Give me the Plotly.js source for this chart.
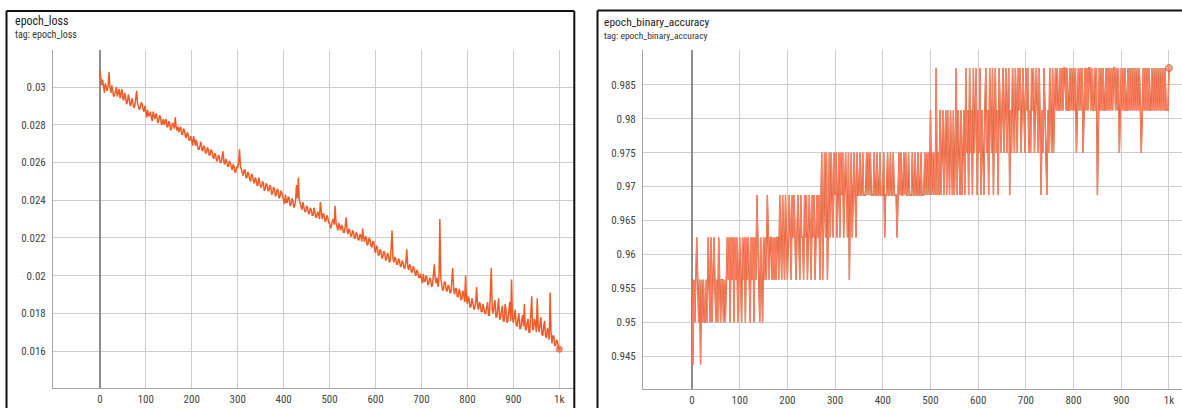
<!DOCTYPE html>
<html>
<head>
<meta charset="utf-8">
<script src="https://cdn.plot.ly/plotly-3.0.1.min.js"></script>
<style>
html,body{margin:0;padding:0;background:#fff;}
#chart{width:1182px;height:408px;}
</style>
</head>
<body>
<div id="chart"></div>
<script>
// ---- data (epochs 0..1000) ----
// epoch_loss, sampled every 2 epochs
const lossValues = [
0.0309,0.0304,0.0301,0.0304,0.0299,0.0297,0.0302,0.0299,0.0298,0.0301,0.0308,0.0300,0.0297,0.0301,0.0298,0.0295,0.0296,0.0299,0.0300,0.0295,0.0297,0.0299,0.0294,0.0296,0.0299,0.0294,0.0293,0.0297,0.0295,0.0291,0.0292,0.0296,0.0294,0.0290,0.0291,0.0294,0.0292,0.0289,0.0290,0.0293,0.0298,0.0291,0.0290,0.0288,0.0289,0.0292,0.0291,0.0288,0.0287,0.0290,
0.0286,0.0284,0.0288,0.0285,0.0285,0.0287,0.0284,0.0282,0.0287,0.0284,0.0283,0.0286,0.0285,0.0281,0.0282,0.0285,0.0284,0.0280,0.0281,0.0283,0.0280,0.0282,0.0283,0.0279,0.0279,0.0282,0.0281,0.0277,0.0278,0.0281,0.0280,0.0278,0.0284,0.0279,0.0277,0.0279,0.0276,0.0278,0.0279,0.0275,0.0275,0.0278,0.0277,0.0274,0.0273,0.0276,0.0275,0.0272,0.0272,0.0274,
0.0271,0.0269,0.0274,0.0270,0.0269,0.0272,0.0270,0.0267,0.0267,0.0270,0.0271,0.0267,0.0266,0.0269,0.0268,0.0265,0.0265,0.0268,0.0267,0.0264,0.0264,0.0267,0.0266,0.0263,0.0262,0.0265,0.0264,0.0261,0.0261,0.0264,0.0263,0.0260,0.0260,0.0263,0.0266,0.0260,0.0259,0.0262,0.0261,0.0258,0.0258,0.0261,0.0259,0.0257,0.0256,0.0259,0.0258,0.0255,0.0255,0.0258,
0.0257,0.0260,0.0267,0.0258,0.0256,0.0254,0.0253,0.0256,0.0256,0.0252,0.0252,0.0255,0.0254,0.0251,0.0250,0.0254,0.0253,0.0250,0.0249,0.0252,0.0251,0.0248,0.0248,0.0252,0.0250,0.0247,0.0247,0.0250,0.0249,0.0245,0.0246,0.0249,0.0248,0.0245,0.0245,0.0248,0.0247,0.0243,0.0244,0.0247,0.0246,0.0242,0.0243,0.0246,0.0245,0.0241,0.0242,0.0245,0.0244,0.0241,
0.0240,0.0238,0.0243,0.0239,0.0239,0.0242,0.0241,0.0237,0.0238,0.0241,0.0240,0.0236,0.0237,0.0240,0.0248,0.0241,0.0252,0.0240,0.0238,0.0236,0.0235,0.0239,0.0237,0.0234,0.0234,0.0237,0.0236,0.0233,0.0233,0.0236,0.0235,0.0232,0.0232,0.0236,0.0234,0.0231,0.0231,0.0234,0.0233,0.0230,0.0239,0.0232,0.0230,0.0233,0.0232,0.0229,0.0229,0.0232,0.0231,0.0228,
0.0228,0.0225,0.0226,0.0229,0.0230,0.0227,0.0237,0.0228,0.0226,0.0224,0.0228,0.0225,0.0224,0.0227,0.0226,0.0223,0.0223,0.0226,0.0231,0.0224,0.0222,0.0225,0.0224,0.0221,0.0221,0.0224,0.0223,0.0220,0.0220,0.0223,0.0222,0.0219,0.0219,0.0222,0.0221,0.0218,0.0225,0.0220,0.0218,0.0221,0.0220,0.0216,0.0217,0.0220,0.0219,0.0216,0.0215,0.0218,0.0218,0.0214,
0.0212,0.0216,0.0215,0.0211,0.0211,0.0214,0.0213,0.0209,0.0210,0.0213,0.0212,0.0208,0.0209,0.0212,0.0211,0.0207,0.0208,0.0215,0.0224,0.0209,0.0207,0.0210,0.0209,0.0206,0.0206,0.0209,0.0208,0.0205,0.0205,0.0208,0.0207,0.0204,0.0204,0.0207,0.0214,0.0205,0.0203,0.0206,0.0205,0.0202,0.0202,0.0205,0.0204,0.0201,0.0200,0.0203,0.0202,0.0199,0.0199,0.0201,
0.0198,0.0196,0.0201,0.0197,0.0197,0.0200,0.0199,0.0195,0.0196,0.0199,0.0198,0.0194,0.0195,0.0199,0.0206,0.0198,0.0196,0.0199,0.0194,0.0197,0.0230,0.0199,0.0195,0.0192,0.0193,0.0197,0.0196,0.0192,0.0192,0.0195,0.0194,0.0191,0.0191,0.0196,0.0204,0.0193,0.0190,0.0193,0.0193,0.0189,0.0189,0.0193,0.0191,0.0187,0.0188,0.0192,0.0190,0.0186,0.0200,0.0187,
0.0185,0.0189,0.0187,0.0183,0.0184,0.0188,0.0186,0.0182,0.0183,0.0186,0.0194,0.0184,0.0182,0.0186,0.0185,0.0181,0.0181,0.0185,0.0183,0.0180,0.0180,0.0184,0.0186,0.0179,0.0179,0.0191,0.0204,0.0182,0.0180,0.0184,0.0187,0.0178,0.0178,0.0183,0.0188,0.0177,0.0177,0.0181,0.0184,0.0176,0.0176,0.0185,0.0182,0.0175,0.0176,0.0181,0.0186,0.0176,0.0198,0.0178,
0.0175,0.0178,0.0182,0.0174,0.0173,0.0177,0.0180,0.0172,0.0172,0.0176,0.0179,0.0173,0.0185,0.0172,0.0171,0.0175,0.0177,0.0170,0.0170,0.0180,0.0189,0.0171,0.0172,0.0177,0.0175,0.0170,0.0188,0.0173,0.0170,0.0174,0.0178,0.0169,0.0168,0.0173,0.0176,0.0168,0.0167,0.0172,0.0171,0.0166,0.0191,0.0170,0.0164,0.0168,0.0168,0.0163,0.0163,0.0166,0.0165,0.0162,
0.0161
];
const lossEpochStep = 2;

// epoch_binary_accuracy, sampled every 2 epochs
const accuracyValues = [
0.95625,0.94375,0.95625,0.95,0.95625,0.9625,0.95625,0.95,0.95625,0.94375,0.95625,0.95,0.95625,0.95,0.95,0.95625,0.95,0.9625,0.95625,0.95,0.9625,0.95,0.95625,0.9625,0.95625,0.95,0.95625,0.95,0.9625,0.95625,0.95,0.95625,0.95625,0.95,0.95625,0.95,0.95625,0.9625,
0.95625,0.9625,0.95,0.9625,0.95625,0.9625,0.95,0.9625,0.95625,0.9625,0.95,0.95625,0.9625,0.95625,0.95,0.9625,0.95625,0.9625,0.95,0.9625,0.95625,0.9625,0.95625,0.95,0.9625,0.95625,0.9625,0.95,0.9625,0.95625,0.96875,0.9625,0.95625,0.95,0.9625,0.95625,0.95,
0.9625,0.95625,0.9625,0.95625,0.96875,0.9625,0.95625,0.9625,0.9625,0.95625,
0.9625,0.95625,0.9625,0.95625,0.9625,0.9625,0.95625,0.96875,0.9625,0.95625,
0.96875,0.9625,0.95625,0.96875,0.9625,0.95625,0.9625,0.96875,0.9625,0.95625,
0.96875,0.9625,0.96875,0.9625,0.95625,0.9625,0.96875,0.9625,0.95625,0.96875,
0.9625,0.9625,0.95625,0.96875,0.9625,0.96875,0.95625,0.9625,0.96875,0.9625,
0.95625,0.96875,0.9625,0.96875,0.95625,0.9625,0.96875,0.9625,0.96875,0.95625,
0.96875,
0.975,0.95625,0.96875,0.975,0.9625,0.975,0.95625,0.96875,0.975,0.9625,
0.975,0.96875,0.9625,0.975,0.96875,0.975,0.9625,0.96875,0.975,0.9625,
0.975,0.96875,0.975,0.9625,0.96875,0.975,0.96875,0.9625,0.975,0.95625,
0.96875,0.975,0.9625,0.96875,0.975,0.96875,0.9625,0.975,0.96875,0.96875,
0.975,
0.96875,0.96875,0.975,0.96875,0.96875,0.96875,0.975,0.96875,0.975,0.96875,
0.975,0.96875,0.96875,0.96875,0.975,0.96875,0.96875,0.975,0.96875,0.96875,
0.975,0.96875,0.96875,0.96875,0.975,0.9625,0.96875,0.96875,0.975,0.96875,
0.96875,0.975,0.96875,0.96875,0.975,0.96875,0.96875,0.96875,0.9625,0.96875,
0.975,0.96875,0.975,0.96875,0.96875,0.975,0.96875,0.975,0.96875,0.96875,
0.975,0.96875,0.96875,0.96875,0.975,0.96875,0.96875,0.975,0.96875,0.96875,
0.975,0.96875,0.96875,0.975,0.96875,0.96875,0.96875,0.975,0.96875,0.975,
0.96875,
0.975,0.96875,0.98125,0.96875,0.975,0.96875,0.975,0.96875,0.9875,0.96875,
0.975,0.96875,0.98125,0.96875,0.975,0.98125,0.96875,0.975,0.98125,0.96875,
0.98125,0.975,0.96875,0.98125,0.975,0.96875,0.98125,0.96875,0.975,0.9875,
0.96875,0.98125,0.975,0.96875,0.98125,0.96875,0.975,0.98125,0.96875,0.9875,
0.975,0.98125,0.96875,0.9875,0.975,0.98125,0.96875,0.9875,0.975,0.98125,
0.9875,0.96875,0.98125,0.975,0.9875,0.96875,0.98125,0.975,0.96875,0.98125,
0.9875,0.975,0.98125,0.96875,0.9875,0.98125,0.975,0.9875,0.96875,0.98125,
0.9875,0.975,0.98125,0.96875,0.9875,0.98125,0.975,0.98125,0.9875,0.975,
0.98125,0.9875,0.975,0.98125,0.9875,0.96875,0.98125,0.975,0.9875,0.98125,
0.975,0.9875,0.98125,0.975,0.9875,0.98125,0.9875,0.975,0.98125,0.9875,
0.98125,0.975,0.9875,
0.98125,0.9875,0.975,0.98125,0.975,0.9875,0.98125,0.9875,0.975,0.98125,
0.9875,0.98125,0.975,0.9875,0.975,0.96875,0.98125,0.975,0.9875,0.98125,
0.975,0.96875,0.98125,0.975,0.9875,0.98125,0.975,0.9875,0.975,0.98125,
0.9875,0.98125,0.9875,0.98125,0.98125,0.9875,0.98125,0.9875,0.98125,0.9875,
0.9875,0.98125,0.9875,0.98125,0.98125,0.9875,0.98125,0.9875,0.98125,0.9875,
0.98125,0.9875,0.975,0.98125,0.9875,0.98125,0.9875,0.98125,0.9875,0.975,
0.98125,0.9875,0.98125,0.9875,0.98125,0.9875,0.9875,0.98125,0.9875,0.98125,
0.98125,0.9875,0.98125,0.9875,0.96875,0.98125,0.9875,0.98125,0.9875,0.98125,
0.9875,0.98125,0.98125,0.9875,0.98125,0.9875,0.98125,0.9875,0.98125,0.9875,
0.98125,0.9875,0.9875,0.98125,0.9875,0.98125,0.9875,0.975,0.98125,0.9875,
0.98125,0.9875,0.98125,0.9875,0.98125,0.98125,0.9875,0.98125,0.9875,0.98125,
0.9875,0.98125,0.9875,0.98125,0.9875,0.98125,0.9875,0.98125,0.9875,0.98125,
0.975,0.98125,0.9875,0.98125,0.9875,0.98125,0.9875,0.98125,0.9875,0.98125,
0.98125,0.9875,0.98125,0.9875,0.98125,0.9875,0.98125,0.9875,0.98125,0.9875,
0.98125,0.9875,0.98125,0.9875,0.98125,0.9875,0.98125,0.98125,0.98125,0.9875
];
const accuracyEpochStep = 2;

const epochTicks = [0,100,200,300,400,500,600,700,800,900,1000];
const epochTickLabels = ['0','100','200','300','400','500','600','700','800','900','1k'];
const lossTicks = [0.016,0.018,0.02,0.022,0.024,0.026,0.028,0.03];
const lossTickLabels = ['0.016','0.018','0.02','0.022','0.024','0.026','0.028','0.03'];
const accTicks = [0.945,0.95,0.955,0.96,0.965,0.97,0.975,0.98,0.985];
const accTickLabels = ['0.945','0.95','0.955','0.96','0.965','0.97','0.975','0.98','0.985'];

// ---- layout helpers (pixel -> paper) ----
const W = 1182, H = 408;
const px = x => x / W;
const py = y => 1 - y / H;
const FONT = '"Liberation Sans Narrow", "Arial Narrow", "Roboto Condensed", Roboto, "Liberation Sans", Arial, sans-serif';

const lastOnly = (arr, size) => arr.map((v, i) => i === arr.length - 1 ? size : 0);

const traces = [
  {
    type: 'scatter', mode: 'lines+markers', xaxis: 'x', yaxis: 'y',
    y: lossValues, x0: 0, dx: lossEpochStep,
    line: {color: '#ee5d27', width: 1.5},
    marker: {size: lastOnly(lossValues, 7), color: '#e9592a', line: {width: 0}},
    hoverinfo: 'skip'
  },
  {
    type: 'scatter', mode: 'lines', xaxis: 'x2', yaxis: 'y2',
    y: accuracyValues, x0: 0, dx: accuracyEpochStep,
    line: {color: '#c4521c', width: 1.4},
    hoverinfo: 'skip'
  },
  {
    type: 'scatter', mode: 'lines+markers', xaxis: 'x2', yaxis: 'y2',
    y: accuracyValues, x0: 0, dx: accuracyEpochStep,
    line: {color: '#ff8266', width: 1.0},
    marker: {size: lastOnly(accuracyValues, 7), color: '#ff7b5c', line: {width: 1, color: '#c4521c'}},
    hoverinfo: 'skip'
  }
];

const gridColor = '#cdcdcd';
const axisLine = '#a3a3a3';
const tickFont = {family: FONT, size: 11, color: '#444'};

function xAxis(domain, range, anchor) {
  return {
    domain, range, anchor, tickmode: 'array', tickvals: epochTicks, ticktext: epochTickLabels,
    showgrid: true, gridcolor: gridColor, gridwidth: 1,
    zeroline: true, zerolinecolor: '#8e8e8e', zerolinewidth: 1.5,
    showline: true, linecolor: axisLine, linewidth: 1,
    ticks: '', tickfont: tickFont, ticklabelstandoff: 1, fixedrange: true
  };
}
function yAxis(domain, range, anchor, vals, labels) {
  return {
    domain, range, anchor, tickmode: 'array', tickvals: vals, ticktext: labels,
    showgrid: true, gridcolor: gridColor, gridwidth: 1, zeroline: false,
    showline: true, linecolor: axisLine, linewidth: 1,
    ticks: '', tickfont: tickFont, ticklabelstandoff: 4, fixedrange: true
  };
}

const border = (x0, y0, x1, y1) => ({
  type: 'line', xref: 'paper', yref: 'paper',
  x0: px(x0), y0: py(y0), x1: px(x1), y1: py(y1),
  line: {color: '#111', width: 2}
});

const label = (x, y, text, size, color) => ({
  xref: 'paper', yref: 'paper', x: px(x), y: py(y), xanchor: 'left', yanchor: 'middle',
  text, showarrow: false, font: {family: FONT, size, color}
});

const layout = {
  width: W, height: H,
  margin: {l: 0, r: 0, t: 0, b: 0},
  paper_bgcolor: '#fff', plot_bgcolor: '#fff',
  showlegend: false,
  font: {family: FONT, size: 11, color: '#444'},
  xaxis: xAxis([px(53), px(574)], [-102, 1032], 'y'),
  yaxis: yAxis([py(388), py(50)], [0.01404, 0.03197], 'x', lossTicks, lossTickLabels),
  xaxis2: xAxis([px(643), 1], [-102.7, 1027.3], 'y2'),
  yaxis2: yAxis([py(389), py(50)], [0.94013, 0.99016], 'x2', accTicks, accTickLabels),
  shapes: [
    border(6.5, 430, 6.5, 11),
    border(6.5, 11, 574.3, 11),
    border(574.3, 11, 574.3, 430),
    border(597.5, 430, 597.5, 10.5),
    border(597.5, 10.5, 1200, 10.5)
  ],
  annotations: [
    label(13, 21, 'epoch_loss', 12, '#212121'),
    label(13, 34, 'tag: epoch_loss', 10, '#333'),
    label(602, 22, 'epoch_binary_accuracy', 11.5, '#212121'),
    label(602, 35, 'tag: epoch_binary_accuracy', 9.5, '#333')
  ]
};

Plotly.newPlot('chart', traces, layout, {staticPlot: true, displayModeBar: false});
</script>
</body>
</html>
